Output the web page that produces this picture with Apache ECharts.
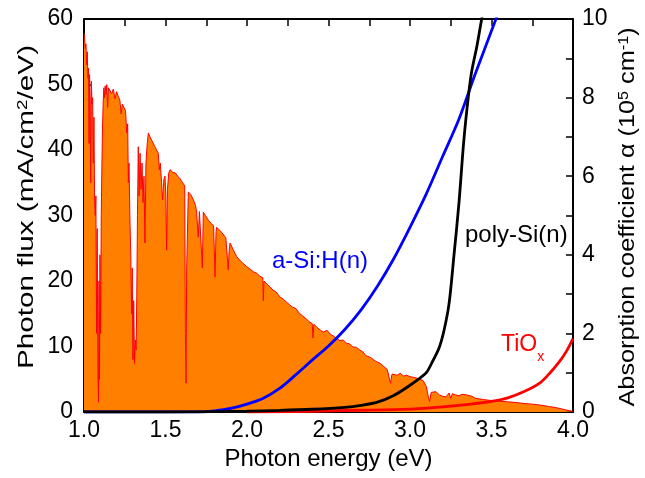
<!DOCTYPE html>
<html>
<head>
<meta charset="utf-8">
<script src="https://cdn.jsdelivr.net/npm/echarts@6/dist/echarts.min.js"></script>
<style>
html,body{margin:0;padding:0;background:#fff;}
#chart{width:645px;height:478px;}
</style>
</head>
<body>
<div id="chart"></div>
<script>
// Photon flux spectrum (left axis): photon energy (eV), flux (mA/cm^2/eV)
var spectrumE = [
1.000,1.004,1.008,1.012,1.016,1.020,1.024,1.028,1.031,1.034,1.038,1.041,1.045,1.049,1.053,1.057,1.061,1.065,1.069,1.073,
1.077,1.081,1.085,1.089,1.092,1.095,1.098,1.102,1.106,1.110,1.114,1.118,1.122,1.126,1.130,1.135,1.140,1.145,1.150,1.160,
1.170,1.180,1.190,1.200,1.210,1.220,1.228,1.235,1.245,1.255,1.262,1.268,1.272,1.276,1.282,1.287,1.292,1.296,1.300,1.305,
1.310,1.315,1.320,1.324,1.328,1.333,1.338,1.344,1.350,1.356,1.362,1.368,1.374,1.380,1.388,1.395,1.405,1.415,1.425,1.435,
1.445,1.456,1.462,1.468,1.476,1.482,1.490,1.497,1.502,1.507,1.512,1.520,1.528,1.545,1.560,1.575,1.590,1.600,1.610,1.618,
1.622,1.626,1.630,1.640,1.655,1.671,1.685,1.691,1.701,1.708,1.720,1.726,1.732,1.745,1.753,1.765,1.780,1.795,1.804,1.810,
1.814,1.830,1.845,1.855,1.870,1.885,1.890,1.896,1.915,1.937,1.955,1.975,1.998,2.020,2.040,2.059,2.080,2.097,2.100,2.104,
2.120,2.141,2.160,2.180,2.200,2.220,2.240,2.260,2.280,2.300,2.320,2.340,2.360,2.380,2.400,2.405,2.410,2.430,2.450,2.470,
2.490,2.510,2.530,2.550,2.570,2.590,2.610,2.630,2.650,2.670,2.690,2.710,2.730,2.740,2.760,2.780,2.800,2.820,2.840,2.860,
2.870,2.880,2.890,2.900,2.920,2.940,2.960,2.980,3.000,3.020,3.040,3.060,3.080,3.090,3.100,3.110,3.120,3.130,3.140,3.160,
3.180,3.200,3.220,3.240,3.250,3.260,3.280,3.300,3.320,3.350,3.380,3.400,3.450,3.500,3.550,3.600,3.650,3.700,3.750,3.800,
3.850,3.900,3.950,4.000
];
var spectrumFlux = [
57.8,57.0,55.5,56.2,53.0,55.0,51.0,52.5,41.0,51.5,47.5,35.0,50.5,47.0,48.0,38.0,45.0,32.0,30.0,33.0,
12.0,28.0,6.0,1.5,20.0,5.0,24.0,12.0,30.0,38.0,44.0,47.5,49.5,48.0,49.8,48.5,50.0,46.5,49.5,49.2,
48.6,49.3,47.8,48.9,48.2,47.6,45.5,47.0,46.5,46.0,42.6,44.0,35.0,38.0,29.3,24.0,15.0,22.0,8.0,17.0,
7.4,11.0,9.5,18.0,30.0,40.5,33.0,39.5,34.0,38.0,32.0,36.0,25.8,38.0,41.0,42.6,42.0,41.5,41.5,40.5,
40.0,39.5,37.0,38.0,35.0,32.4,35.5,36.0,33.0,24.7,34.0,36.5,37.0,36.6,36.5,36.0,35.6,35.2,35.0,34.5,
12.0,4.4,22.0,33.6,33.2,32.4,31.5,30.4,26.7,30.6,30.5,22.0,30.5,30.0,29.7,29.2,28.8,28.4,20.6,27.5,
28.2,27.8,27.4,27.3,26.6,21.7,24.5,25.8,24.8,23.7,23.2,22.7,22.2,21.8,21.4,21.2,20.7,20.5,17.0,20.0,
19.6,19.1,18.6,18.3,17.6,17.3,16.8,16.4,16.0,15.8,15.1,14.7,14.3,13.8,13.5,11.3,13.4,12.9,12.5,12.2,
12.5,11.9,11.6,11.2,10.9,11.0,10.5,10.4,9.9,9.9,9.5,9.2,8.6,8.4,8.3,7.9,7.6,7.4,6.9,6.5,
5.5,4.4,5.8,5.9,5.6,5.9,5.5,5.6,5.4,5.3,5.2,5.0,4.8,4.4,3.9,2.6,1.6,3.0,3.3,3.1,
2.6,2.4,2.3,2.9,2.1,2.8,2.6,2.5,2.7,2.6,2.4,2.1,1.9,1.75,1.65,1.55,1.45,1.3,1.2,1.05,
0.85,0.65,0.35,0.1
];

// Absorption coefficient curves (right axis, 10^5 cm^-1)
var aSiE = [1.00,1.50,1.70,1.80,1.90,2.00,2.10,2.20,2.30,2.40,2.50,2.60,2.70,2.80,2.90,3.00,3.10,3.20,3.30,3.40,3.50,3.60];
var aSiAlpha = [0,0,0,0.03,0.09,0.20,0.35,0.60,0.95,1.32,1.68,2.10,2.60,3.20,3.90,4.70,5.55,6.50,7.45,8.60,9.70,10.8];

var polyE = [1.00,1.50,1.80,2.00,2.20,2.40,2.60,2.70,2.80,2.90,3.00,3.05,3.10,3.14,3.18,3.21,3.24,3.27,3.30,3.33,3.36,3.38,3.41,3.44,3.47];
var polyAlpha = [0,0,0.01,0.02,0.04,0.07,0.12,0.17,0.25,0.42,0.68,0.83,1.00,1.30,1.65,2.10,2.77,4.00,5.30,6.90,8.10,8.70,9.30,10.0,10.6];

var tioE = [2.00,2.30,2.50,2.70,2.90,3.10,3.30,3.50,3.60,3.70,3.80,3.86,3.92,3.96,4.00];
var tioAlpha = [0,0.01,0.03,0.045,0.06,0.10,0.17,0.27,0.36,0.52,0.75,1.00,1.30,1.55,1.87];

var xTicks = ['1.0','1.5','2.0','2.5','3.0','3.5','4.0'];

function pairs(xs, ys){ return xs.map(function(x,i){ return [x, ys[i]]; }); }

var FONT = '"Liberation Sans", Arial, sans-serif';
var chart = echarts.init(document.getElementById('chart'), null, {renderer:'canvas'});
var axisLine = {show:true, onZero:false, lineStyle:{color:'#000', width:2}};
var tick = {show:true, inside:true, length:7, lineStyle:{color:'#000', width:1.5}};
var minor = {show:true, splitNumber:2, length:7, lineStyle:{color:'#000', width:1.5}};
var supRich = {sup:{fontSize:14, fontFamily:FONT, fill:'#000', color:'#000', verticalAlign:'top', lineHeight:14}};
chart.setOption({
  animation:false,
  backgroundColor:'#fff',
  grid:{left:84, right:72, top:19, bottom:66, containLabel:false},
  xAxis:[{
    type:'value', min:1, max:4, interval:0.5, position:'bottom',
    axisLine:axisLine, axisTick:tick, minorTick:minor, splitLine:{show:false},
    axisLabel:{color:'#000', fontSize:23, fontFamily:FONT, margin:7,
      formatter:function(v){ var i=Math.round((v-1)/0.5); return xTicks[i]; }},
    name:'Photon energy (eV)', nameLocation:'middle', nameGap:31,
    nameTextStyle:{color:'#000', fontSize:24, fontFamily:FONT}
  },{
    type:'value', min:1, max:4, interval:0.5, position:'top',
    axisLine:axisLine, axisTick:tick, minorTick:minor,
    splitLine:{show:false}, axisLabel:{show:false}
  }],
  yAxis:[{
    type:'value', min:0, max:60, interval:10, position:'left',
    axisLine:axisLine, axisTick:tick, splitLine:{show:false},
    axisLabel:{color:'#000', fontSize:23, fontFamily:FONT, margin:11}
  },{
    type:'value', min:0, max:10, interval:2, position:'right',
    axisLine:axisLine, axisTick:tick, minorTick:minor, splitLine:{show:false},
    axisLabel:{color:'#000', fontSize:23, fontFamily:FONT, margin:9}
  }],
  series:[{
    name:'Photon flux', type:'line', xAxisIndex:0, yAxisIndex:0,
    data:pairs(spectrumE, spectrumFlux), showSymbol:false, symbol:'none',
    lineStyle:{color:'#FF0000', width:1}, areaStyle:{color:'#FF8000', opacity:1}, z:1
  },{
    name:'TiOx', type:'line', xAxisIndex:0, yAxisIndex:1,
    data:pairs(tioE, tioAlpha), showSymbol:false, symbol:'none', smooth:0.3,
    lineStyle:{color:'#FF0000', width:2.8}, z:3
  },{
    name:'a-Si:H(n)', type:'line', xAxisIndex:0, yAxisIndex:1,
    data:pairs(aSiE, aSiAlpha), showSymbol:false, symbol:'none', smooth:0.3,
    lineStyle:{color:'#0000FF', width:2.8}, z:3
  },{
    name:'poly-Si(n)', type:'line', xAxisIndex:0, yAxisIndex:1,
    data:pairs(polyE, polyAlpha), showSymbol:false, symbol:'none', smooth:0.3,
    lineStyle:{color:'#000000', width:2.8}, z:3
  }],
  graphic:[
    {type:'text', x:27, y:207, rotation:Math.PI/2, scaleX:1.35, z:10,
      style:{text:'Photon flux (mA/cm{sup|2}/eV)', fill:'#000', font:'22px '+FONT,
        textAlign:'center', textVerticalAlign:'middle', align:'center', verticalAlign:'middle', rich:supRich}},
    {type:'text', x:628, y:217, rotation:Math.PI/2, scaleX:1.15, z:10,
      style:{text:'Absorption coefficient \u03b1 (10{sup|5} cm{sup|-1})', fill:'#000', font:'22px '+FONT,
        textAlign:'center', textVerticalAlign:'middle', align:'center', verticalAlign:'middle', rich:supRich}},
    {type:'text', left:272, top:249, z:10, style:{text:'a-Si:H(n)', fill:'#0000FF', font:'24px '+FONT}},
    {type:'text', left:465, top:223, z:10, style:{text:'poly-Si(n)', fill:'#000000', font:'24px '+FONT}},
    {type:'text', left:501, top:333, z:10, style:{text:'TiO{sub|x}', fill:'#FF0000', font:'23px '+FONT,
      rich:{sub:{fontSize:14, fontFamily:FONT, fill:'#FF0000', verticalAlign:'bottom', lineHeight:40}}}}
  ]
});
</script>
</body>
</html>
